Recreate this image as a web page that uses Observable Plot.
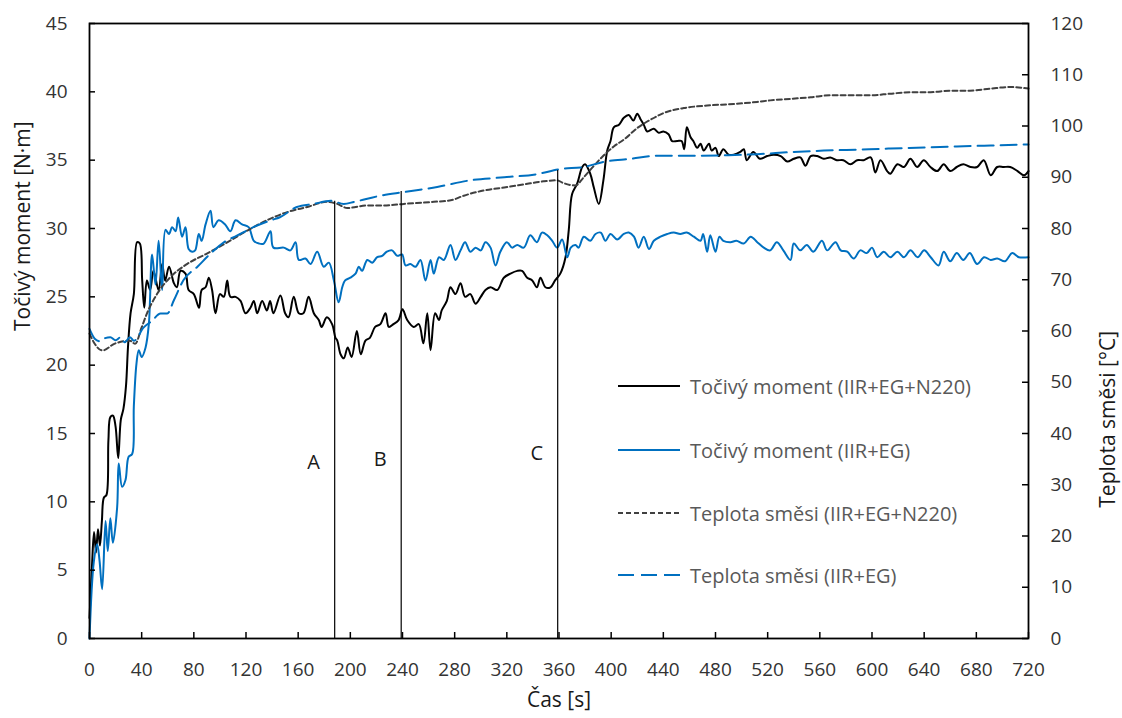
<!DOCTYPE html>
<html>
<head>
<meta charset="utf-8">
<script src="https://cdn.jsdelivr.net/npm/d3@7"></script>
<script src="https://cdn.jsdelivr.net/npm/@observablehq/plot@0.6"></script>
<style>
  body { margin: 0; background: #fff; }
  #wrap { position: relative; width: 1122px; height: 718px; font-family: "Open Sans", sans-serif; }
  #legend { position: absolute; left: 618px; top: 374px; }
  .row { position: absolute; left: 0; height: 24px; display: flex; align-items: center; white-space: nowrap; font-size: 20px; color: #595959; }
  .row svg { margin-right: 10px; }
</style>
</head>
<body>
<div id="wrap"></div>
<script>
// ---------- data ----------
const timeTicks = [0, 40, 80, 120, 160, 200, 240, 280, 320, 360, 400, 440, 480, 520, 560, 600, 640, 680, 720];
const torqueTicks = [0, 5, 10, 15, 20, 25, 30, 35, 40, 45];
const tempTicks = [0, 10, 20, 30, 40, 50, 60, 70, 80, 90, 100, 110, 120];

const seriesNames = [
  "Točivý moment (IIR+EG+N220)",
  "Točivý moment (IIR+EG)",
  "Teplota směsi (IIR+EG+N220)",
  "Teplota směsi (IIR+EG)"
];

// [time s, torque N·m]
const torqueN220 = [[0,1.5],[2,5.5],[3.5,7.8],[5,6.3],[6.5,8.0],[8,6.8],[9.5,8.6],[11,10.3],[13,10.5],[14.5,14.5],[16,16.2],[18,16.3],[20,15.5],[22,13.2],[24,16.0],[26,16.8],[28,18.5],[29.5,21.3],[31.5,23.8],[34,25.2],[36.5,29.0],[38.6,28.9],[40.4,26.2],[42,24.2],[44,26.2],[46.5,25.5],[49,26.9],[53,25.5],[55.7,27.4],[58,26.2],[61,27.2],[64.7,26.0],[67,25.7],[69.8,26.9],[73.6,26.7],[76,25.5],[80,25.2],[84,24.2],[86,25.5],[89,25.7],[91.5,26.4],[94,25.5],[96.6,23.8],[100,25.2],[103,25.0],[105.6,26.2],[108,25.0],[112,25.0],[115.8,24.7],[119.6,23.8],[123.4,24.2],[126,24.7],[128.6,23.8],[132.4,24.7],[136,24.0],[138.5,24.7],[141,23.8],[146.4,25.1],[150,23.8],[152.6,23.5],[156.6,25.0],[160.5,23.8],[164,23.8],[168,25.0],[172,23.8],[175.8,23.3],[178,22.8],[182,23.5],[186,23.0],[188.6,22.0],[190,21.8],[192.5,20.8],[195,20.5],[198,21.3],[201,20.6],[205,22.5],[208,20.8],[211.6,21.8],[215,22.0],[219,22.8],[223,23.0],[227,23.8],[229.5,22.8],[233,23.0],[237,23.3],[240,24.1],[243.6,23.3],[248.6,22.8],[252.5,23.0],[256,21.6],[259,23.8],[261.5,21.1],[265,23.8],[268,23.3],[270,24.0],[274,24.7],[276.8,25.7],[280.6,25.2],[284.5,26.0],[288,25.0],[292,25.2],[296,24.5],[300,25.0],[303.6,25.5],[307.5,25.7],[312.6,25.5],[317.7,26.4],[322.8,26.7],[328,26.9],[331.7,26.9],[335.6,26.4],[339.5,26.2],[343,25.7],[345.8,26.4],[349.6,25.7],[353.5,25.7],[357,26.2],[361,26.7],[365,27.9],[367.5,29.9],[370,32.5],[374,33.3],[377.8,34.5],[380,34.7],[384,34.0],[386.7,33.0],[390.5,31.8],[394,33.5],[397,35.7],[399.5,36.4],[402,37.4],[406,37.6],[409.7,38.1],[413.5,38.3],[417,37.9],[420,38.4],[422.5,38.0],[425,37.6],[427.6,37.1],[432.7,37.3],[436.5,37.0],[440,37.1],[444,36.9],[446.7,36.4],[450.6,36.4],[454,36.4],[456,35.8],[458,37.4],[460.8,36.7],[463,36.4],[466,35.9],[468.5,36.2],[471,35.7],[475,36.2],[477,35.7],[480,35.9],[482.5,35.3],[486,35.8],[490,35.4],[494,35.4],[499,35.6],[501.7,35.8],[504,35.0],[509,35.6],[514,35.1],[519.6,35.3],[524.7,35.4],[530,35.3],[535,34.9],[540,35.1],[545,35.2],[549,34.6],[553,35.3],[558,35.3],[563,35.1],[568,35.2],[573,35.0],[578,35.0],[583.5,34.7],[588.6,35.0],[593.7,35.0],[599,35.2],[602.6,34.1],[606.5,35.0],[611.6,34.2],[614,34.0],[619.5,34.7],[624.5,34.5],[629.5,35.1],[634.6,34.5],[639.7,35.0],[644.8,34.5],[650,34.2],[655,34.7],[660,34.2],[665,34.5],[670,34.7],[675.5,34.5],[680.6,34.5],[685.7,35.0],[691,33.9],[696,34.5],[701,34.5],[706,34.5],[711.6,34.2],[716.6,33.9],[720,34.2]];

const torqueEG = [[0,0],[3.3,5.6],[5.9,6.9],[7.7,5.7],[9.7,3.6],[12.3,8.6],[14,6.4],[16,8.8],[17.9,7.0],[21.2,9.6],[22.4,12.8],[25,11.1],[27.6,11.6],[30,13.3],[32.7,13.5],[34,17.0],[36,20.1],[37.8,21.1],[40,20.6],[43,21.3],[45.5,23.0],[48,28.1],[50.6,25.9],[53,29.1],[55.7,25.5],[58.3,29.9],[61,29.6],[63.4,30.1],[66,29.8],[68,30.8],[71,29.4],[73.6,30.1],[76,28.5],[78.7,28.3],[81,28.4],[83.8,29.6],[86,29.1],[89,30.3],[92.8,31.3],[95,30.1],[99,30.6],[104,30.3],[108,29.8],[112,30.6],[117,30.3],[122,30.1],[126,29.1],[130,28.9],[133.6,28.9],[138.8,29.8],[141,28.6],[149,28.6],[154,28.4],[158,29.0],[160.5,27.7],[165.6,27.8],[169.5,27.4],[174.6,28.3],[179.6,27.2],[183.5,27.5],[187.4,26.2],[191,24.6],[193.8,25.7],[196,26.2],[200,26.4],[204,26.7],[206.5,27.2],[209,26.9],[213,27.7],[216.8,27.5],[220.6,27.9],[224.4,28.0],[228,28.3],[232,28.4],[236,28.0],[239.7,28.1],[242.3,27.3],[246,27.4],[250,27.2],[253.8,27.7],[257.6,26.2],[261.5,27.7],[264,26.7],[268,27.9],[271.7,27.7],[276.8,28.8],[280.6,27.7],[284.5,28.4],[288,29.0],[292,28.3],[296,28.6],[300,28.4],[303.6,29.0],[307.5,28.6],[311.3,27.3],[315,28.3],[320,29.0],[324,28.6],[328,28.8],[333,28.6],[338,29.5],[343,29.0],[347,29.7],[351,29.5],[354.8,29.1],[358.6,28.6],[362.4,29.2],[366.3,27.9],[369,28.6],[372.6,28.8],[375,28.6],[379,29.4],[384,29.1],[388,29.6],[392,29.7],[395.6,29.1],[399.5,29.6],[404.6,29.2],[409.7,29.6],[413.5,29.7],[417.5,29.4],[421,28.6],[425,29.4],[429,28.5],[432.7,29.1],[437.8,29.4],[443,29.6],[448,29.7],[453,29.6],[458,29.7],[463.4,29.4],[468.5,29.1],[470.5,29.6],[473.6,28.3],[476,29.5],[480,28.3],[483,29.4],[486,29.1],[491.5,29.0],[496,29.1],[501.7,28.9],[507,29.4],[512,29.0],[517,28.6],[522,28.4],[527,29.0],[532,28.4],[537.5,27.7],[540,28.9],[545,28.4],[550,28.8],[555,28.3],[561.6,29.1],[565.6,28.4],[572,29.0],[576,28.4],[581,28.3],[586,27.8],[591,28.4],[596,28.2],[600,28.6],[604,27.9],[609,28.3],[614,27.9],[619.5,28.3],[624.5,27.9],[629.5,28.4],[635,27.9],[640,28.4],[645,27.9],[651,27.3],[655,28.3],[660,27.6],[665,28.2],[670,27.7],[675,28.2],[680.6,27.4],[686,27.9],[691,27.7],[696,27.8],[702,27.6],[707.5,28.2],[712.6,27.9],[720,27.9]];

// [time s, temperature °C]
const tempN220 = [[0,59.5],[4,57.5],[10,56.2],[19,57.5],[31,58.1],[35,57.5],[40,60.7],[44,63.4],[52,67.3],[62,70.5],[75,73.1],[90,75.1],[105.6,77.3],[121,79.6],[136,81.6],[151.6,83.2],[167,84.2],[182,85.2],[190,84.8],[197.6,84.0],[213,84.5],[226,84.5],[241,84.8],[264,85.2],[277,85.5],[287,86.4],[302,87.4],[318,88.0],[333,88.6],[348,89.2],[358.6,89.4],[363,88.9],[372.6,88.4],[379,90.0],[386.7,92.2],[394,94.2],[402,96.0],[410,97.4],[420,99.6],[430,101.2],[440,102.5],[455.7,103.5],[473.6,104.0],[494,104.3],[512,104.7],[522,105.0],[537.5,105.3],[553,105.6],[568,106.0],[599,106.0],[614,106.3],[629.5,106.6],[645,106.6],[660,106.9],[675,106.9],[691,107.3],[706,107.6],[720,107.3]];

const tempEG = [[0,60.4],[4,58.5],[8,58.0],[12,58.6],[16,58.8],[20,58.2],[24,58.8],[27,57.8],[31,58.8],[34,58.1],[41.6,60.7],[48,62.0],[54.5,63.4],[59.6,63.4],[64.7,66.0],[72,69.9],[82.6,72.5],[92.8,75.1],[103,77.3],[113,78.6],[126,80.3],[139,81.6],[146,82.2],[159,84.2],[172,84.8],[185,85.4],[195,84.8],[203,85.2],[213,85.8],[223,86.4],[241,87.1],[266.6,88.1],[292,89.4],[318,90.0],[343,90.6],[361,91.6],[379,92.0],[394,93.0],[415,93.6],[435,94.2],[455.7,94.2],[490,94.3],[512,94.5],[537.5,94.9],[563,95.2],[590,95.4],[614,95.6],[640,95.8],[665,96.0],[691,96.2],[720,96.4]];

// phase markers
const markerLabels = ["A", "B", "C"];
const markerTimes = [188, 239, 359];
const markerTemps = [85.3, 87.2, 91.3];
const markerLabelLevels = [12.9, 13.1, 13.5];

// ---------- chart ----------
const K = 45 / 120; // temperature -> torque-axis units
const black = "#000000", blue = "#0070C0", gray = "#404040";
const frameW = 939, frameH = 615;

const chart = Plot.plot({
  width: 1122,
  height: 718,
  marginLeft: 89,
  marginRight: 94,
  marginTop: 23,
  marginBottom: 80,
  x: { domain: [0, 720] },
  y: { domain: [0, 45] },
  style: { fontFamily: "Open Sans, sans-serif", fontSize: "19px", background: "white", color: "#333333" },
  marks: [
    Plot.lineY(torqueN220, { x: d => d[0], y: d => d[1], stroke: black, strokeWidth: 2, curve: "catmull-rom" }),
    Plot.lineY(torqueEG, { x: d => d[0], y: d => d[1], stroke: blue, strokeWidth: 2, curve: "catmull-rom" }),
    Plot.lineY(tempN220, { x: d => d[0], y: d => d[1] * K, stroke: gray, strokeWidth: 2, strokeDasharray: "5,3", curve: "monotone-x" }),
    Plot.lineY(tempEG, { x: d => d[0], y: d => d[1] * K, stroke: blue, strokeWidth: 2, strokeDasharray: "16,7", curve: "monotone-x" }),
    Plot.ruleX(markerTimes, { x: d => d, y1: 0, y2: (d, i) => markerTemps[i] * K, stroke: black, strokeWidth: 1.2 }),
    Plot.text(markerLabels, { x: (d, i) => markerTimes[i], y: (d, i) => markerLabelLevels[i], text: d => d, dx: -21, fontSize: 20, fill: "#1a1a1a" }),
    Plot.frame({ stroke: black, strokeWidth: 1.8 }),
    // inward tick marks
    Plot.tickY(torqueTicks, { y: d => d, stroke: black, strokeWidth: 1.5, insetRight: frameW - 6 }),
    Plot.tickY(tempTicks.map(t => t * K), { y: d => d, stroke: black, strokeWidth: 1.5, insetLeft: frameW - 6 }),
    Plot.tickX(timeTicks, { x: d => d, stroke: black, strokeWidth: 1.5, insetTop: frameH - 6 }),
    // tick labels
    Plot.axisY(torqueTicks, { anchor: "left", tickSize: 0, tickPadding: 22, label: null, fill: "#333333" }),
    Plot.axisY(tempTicks.map(t => t * K), { anchor: "right", tickSize: 0, tickPadding: 22, label: null, tickFormat: d => String(Math.round(d / K)), fill: "#333333" }),
    Plot.axisX(timeTicks, { anchor: "bottom", tickSize: 0, tickPadding: 24, label: null, fill: "#333333" }),
    // axis titles
    Plot.text(["Točivý moment [N·m]"], { frameAnchor: "left", dx: -66, rotate: -90, fontSize: 21, fill: "#1a1a1a" }),
    Plot.text(["Teplota směsi [°C]"], { frameAnchor: "right", dx: 80, rotate: -90, fontSize: 21, fill: "#1a1a1a" }),
    Plot.text(["Čas [s]"], { frameAnchor: "bottom", dy: 68, fontSize: 21, fill: "#1a1a1a" })
  ]
});

const wrap = document.getElementById("wrap");
wrap.appendChild(chart);

// ---------- legend (inside the plot area) ----------
const legendStyles = [
  { stroke: black, dash: null },
  { stroke: blue, dash: null },
  { stroke: gray, dash: "5,3" },
  { stroke: blue, dash: "16,7" }
];
const legendOffsets = [0, 64, 127, 189];
const legend = document.createElement("div");
legend.id = "legend";
seriesNames.forEach((name, i) => {
  const row = document.createElement("div");
  row.className = "row";
  row.style.top = legendOffsets[i] + "px";
  const s = legendStyles[i];
  row.innerHTML = `<svg width="62" height="10"><line x1="0" x2="62" y1="5" y2="5" stroke="${s.stroke}" stroke-width="2.2" ${s.dash ? `stroke-dasharray="${s.dash}"` : ""}/></svg><span>${name}</span>`;
  legend.appendChild(row);
});
wrap.appendChild(legend);
</script>
</body>
</html>
